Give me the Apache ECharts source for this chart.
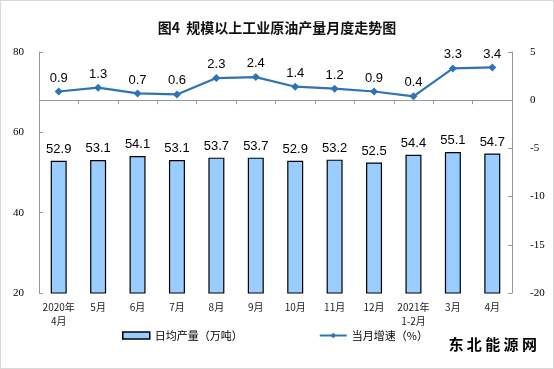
<!DOCTYPE html>
<html><head><meta charset="utf-8">
<script src="https://cdn.jsdelivr.net/npm/echarts@6/dist/echarts.min.js"></script>
<style>html,body{margin:0;padding:0;background:#fff}#c{width:552px;height:367px;border:1px solid #d9d9d9}</style>
</head><body><div id="c"></div>
<script>
const categories = ['2020年\n4月','5月','6月','7月','8月','9月','10月','11月','12月','2021年\n1-2月','3月','4月'];
const dailyOutput = [52.9,53.1,54.1,53.1,53.7,53.7,52.9,53.2,52.5,54.4,55.1,54.7];
const monthlyGrowth = [0.9,1.3,0.7,0.6,2.3,2.4,1.4,1.2,0.9,0.4,3.3,3.4];
const leftTicks = [20,40,60,80];
const rightTicks = [-20,-15,-10,-5,0,5];

const chart = echarts.init(document.getElementById('c'));
chart.setOption({
  animation:false,
  title:{text:'图4  规模以上工业原油产量月度走势图',left:'center',top:15,
    textStyle:{fontFamily:'Noto Sans CJK SC',fontSize:14,fontWeight:'bold',color:'#111'}},
  grid:{left:38,right:41,top:51,bottom:75},
  legend:{bottom:22,itemGap:76,left:116,
    textStyle:{fontFamily:'Noto Sans CJK SC',fontSize:11,color:'#000'},
    data:[{name:'日均产量（万吨）',icon:'rect',itemStyle:{color:'#99CCFF',borderColor:'#000',borderWidth:1.5}},
          {name:'当月增速（%）'}],
    itemWidth:27,itemHeight:7},
  xAxis:{type:'category',data:categories,
    axisLine:{lineStyle:{color:'#999'}},axisTick:{show:true,lineStyle:{color:'#999'},length:4},
    axisLabel:{fontFamily:'Noto Sans CJK SC',fontSize:10,color:'#222',lineHeight:14,margin:7,interval:0}},
  yAxis:[
    {type:'value',min:20,max:80,interval:20,splitLine:{show:false},
     axisLine:{show:true,lineStyle:{color:'#999'}},axisTick:{show:true,inside:true,length:4,lineStyle:{color:'#999'}},
     axisLabel:{fontFamily:'Times New Roman, Liberation Serif',fontSize:11,color:'#000',margin:15}},
    {type:'value',min:-20,max:5,interval:5,splitLine:{show:false},
     axisLine:{show:true,lineStyle:{color:'#999'}},axisTick:{show:true,inside:true,length:4,lineStyle:{color:'#999'}},
     axisLabel:{fontFamily:'Times New Roman, Liberation Serif',fontSize:11,color:'#000',margin:18}}
  ],
  series:[
    {name:'日均产量（万吨）',type:'bar',data:dailyOutput,barWidth:16,
     itemStyle:{color:'#99CCFF',borderColor:'#000',borderWidth:1.2},
     label:{show:true,position:'top',distance:5,fontFamily:'Arial, Liberation Sans',fontSize:13,color:'#000'}},
    {name:'当月增速（%）',type:'line',yAxisIndex:1,data:monthlyGrowth,
     symbol:'diamond',symbolSize:8,lineStyle:{color:'#2E74B5',width:2.2},itemStyle:{color:'#2E74B5'},
     label:{show:true,position:'top',distance:3,fontFamily:'Arial, Liberation Sans',fontSize:13,color:'#000'}}
  ],
  graphic:[{type:'text',right:16,bottom:16,style:{text:'东 北 能 源 网',font:'bold 15px "Noto Sans CJK SC"',fill:'#000'}}]
});
</script></body></html>
